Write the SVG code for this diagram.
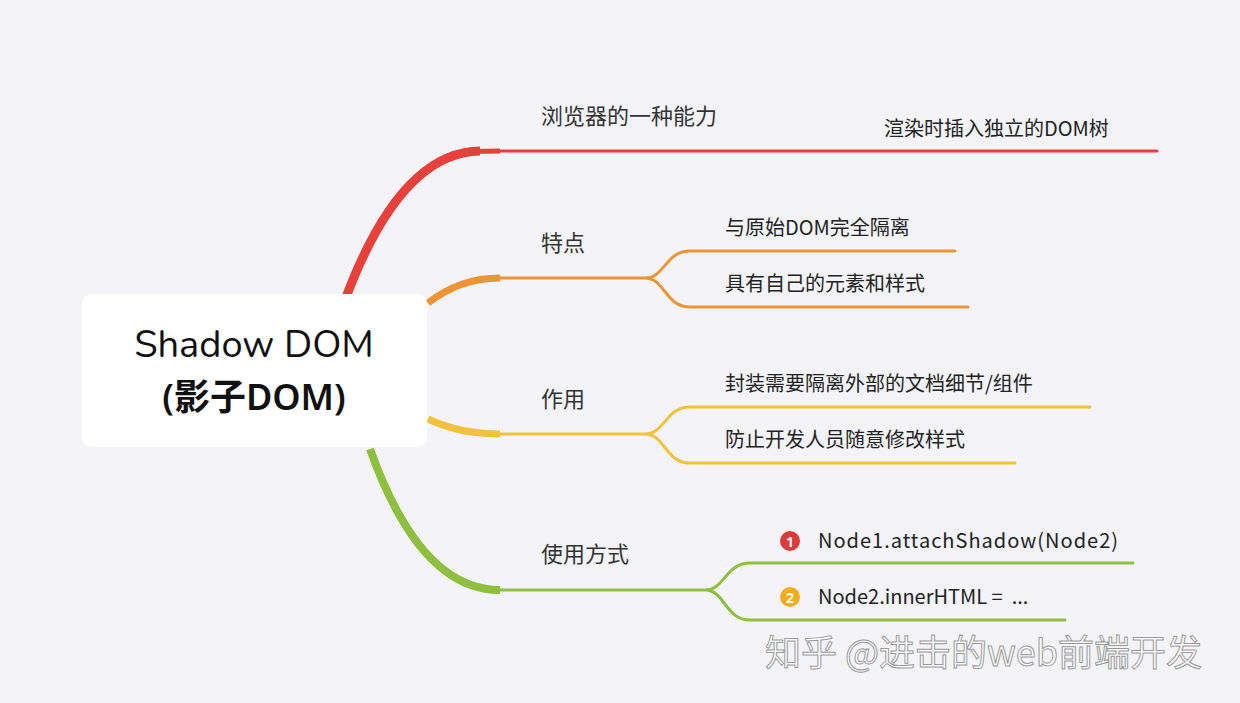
<svg xmlns="http://www.w3.org/2000/svg" width="1240" height="703" viewBox="0 0 1240 703">
<style>
.t{font-family:"Noto Sans CJK SC","Noto Sans",sans-serif;fill:#333;font-size:22px}
.s{font-family:"Noto Sans CJK SC","Noto Sans",sans-serif;fill:#222;font-size:20px}
.c{fill:none;stroke-linecap:round}
.k{fill:none;stroke-linecap:butt}
</style>
<rect width="1240" height="703" fill="#f4f4f8"/>
<g id="connectors">
<path class="k" d="M345 300 Q400 152 480 151" stroke="#e8403a" stroke-width="9"/>
<path class="k" d="M470 151.5 Q485 151 500 151" stroke="#e8403a" stroke-width="5"/>
<path class="c" d="M490 151 H1157" stroke="#e8403a" stroke-width="3"/>
<path class="k" d="M428 303 Q460 278 500 278" stroke="#ee9433" stroke-width="7"/>
<path class="c" d="M495 278 H645 C665 278 665 251 690 251 H955 M645 278 C665 278 665 307 690 307 H968" stroke="#ee9433" stroke-width="3"/>
<path class="k" d="M428 419 Q460 434 500 434" stroke="#f3c23d" stroke-width="7"/>
<path class="c" d="M495 434 H645 C665 434 665 407 690 407 H1090 M645 434 C665 434 665 463 690 463 H1015" stroke="#f3c23d" stroke-width="3"/>
<path class="k" d="M370 449 Q420 590 500 590" stroke="#8fbf3f" stroke-width="8"/>
<path class="c" d="M495 590 H705 C725 590 725 563 750 563 H1133 M705 590 C725 590 725 620 750 620 H1065" stroke="#8fbf3f" stroke-width="3"/>
</g>
<g id="root">
<rect x="82" y="294" width="345" height="153" rx="10" fill="#fff"/>
<text x="254" y="357" text-anchor="middle" font-family="Nunito,'Noto Sans','Noto Sans CJK SC',sans-serif" font-size="38" fill="#111">Shadow DOM</text>
<text x="254" y="410" text-anchor="middle" font-family="'Noto Sans','Noto Sans CJK SC',sans-serif" font-size="36" font-weight="600" fill="#111">(影子DOM)</text>
</g>
<g id="b1"><text class="t" x="541" y="124">浏览器的一种能力</text></g>
<g id="b1a"><text class="s" x="884" y="136">渲染时插入独立的DOM树</text></g>
<g id="b2"><text class="t" x="541" y="251">特点</text></g>
<g id="b2a"><text class="s" x="725" y="235">与原始DOM完全隔离</text></g>
<g id="b2b"><text class="s" x="725" y="291">具有自己的元素和样式</text></g>
<g id="b3"><text class="t" x="541" y="407">作用</text></g>
<g id="b3a"><text class="s" x="725" y="391">封装需要隔离外部的文档细节/组件</text></g>
<g id="b3b"><text class="s" x="725" y="447">防止开发人员随意修改样式</text></g>
<g id="b4"><text class="t" x="541" y="562">使用方式</text></g>
<g id="b4a"><circle cx="790" cy="541" r="10" fill="#dc3b3b"/><text x="790" y="547" text-anchor="middle" font-family="'Noto Sans',sans-serif" font-size="14" font-weight="bold" fill="#fff">1</text><text class="s" x="818" y="548" textLength="300">Node1.attachShadow(Node2)</text></g>
<g id="b4b"><circle cx="790" cy="597" r="10" fill="#f0ad1c"/><text x="790" y="603" text-anchor="middle" font-family="'Noto Sans',sans-serif" font-size="14" font-weight="bold" fill="#fff">2</text><text class="s" x="818" y="604" xml:space="preserve">Node2.innerHTML =  ...</text></g>
<text x="765" y="666" font-family="'Noto Sans CJK SC',sans-serif" font-size="36" fill="#fff" stroke="#999" stroke-width="1">知乎 @进击的web前端开发</text>
</svg>
